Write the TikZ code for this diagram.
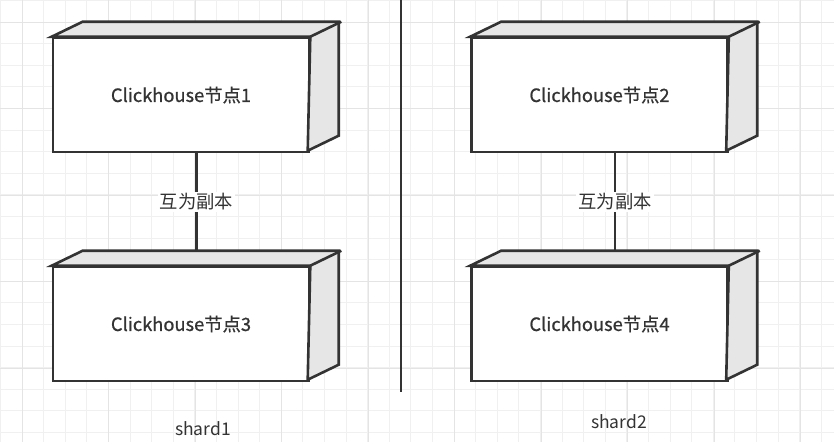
\documentclass[tikz,border=0pt]{standalone}
\usepackage{fontspec}
\setmainfont{Noto Sans CJK SC}
\newfontfamily\medfont{Noto Sans CJK SC}[FakeBold=0.8]
\begin{document}
\begin{tikzpicture}[x=1pt,y=-1pt,
  front/.style={draw=boxline,line width=2.6pt,fill=white,minimum width=256pt,minimum height=114pt,inner sep=0pt,font=\medfont\fontsize{18.3}{20}\selectfont,text=txt},
  face/.style={draw=boxline,line width=2.6pt,fill=facegray,line join=miter},
  link/.style={draw=boxline,line width=2.6pt},
  lbl/.style={fill=white,inner sep=2pt,font=\fontsize{18.3}{20}\selectfont,text=txt},
  shardlbl/.style={inner sep=0pt,font=\fontsize{17.5}{20}\selectfont,text=txt}]
\definecolor{boxline}{HTML}{333333}
\definecolor{facegray}{HTML}{E6E6E6}
\definecolor{txt}{HTML}{333333}
\definecolor{gridminor}{HTML}{F0F0F0}
\definecolor{gridmajor}{HTML}{E4E4E4}
\useasboundingbox (0,0) rectangle (834,442);
\fill[white] (0,0) rectangle (834,442);
\begin{scope}
\clip (0,0) rectangle (834,442);
\foreach \i in {0,...,39} {
  \draw[gridminor,line width=1pt] ({0.4+21.6*\i},0) -- ({0.4+21.6*\i},442);
  \draw[gridminor,line width=1pt] (0,{0.4+21.6*\i}) -- (834,{0.4+21.6*\i});
}
\foreach \i in {0,...,9} {
  \draw[gridmajor,line width=1pt] ({22+86.5*\i},0) -- ({22+86.5*\i},442);
  \draw[gridmajor,line width=1pt] (0,{22+86.5*\i}) -- (834,{22+86.5*\i});
}
\end{scope}
% divider
\draw[boxline,line width=2.8pt] (401,0) -- (401,392);
% boxes
\foreach \nm/\cx/\cy/\t in {n1/181/95/1,n2/599.5/95/2,n3/181/324/3,n4/599.5/324/4} {
  \node[front] (\nm) at (\cx,\cy) {Clickhouse节点\t};
  \draw[face] (\nm.north west) -- ++(31,-15) -- ++(256,0) -- ++(0,114) -- ++(-31,15) -- (\nm.north east) -- cycle;
  \draw[face] (\nm.north east) -- ++(31,-15);
}
% connectors
\draw[link] ([xshift=15.5pt]n1.south) -- node[lbl] {互为副本} ([xshift=15.5pt,yshift=15pt]n3.north);
\draw[link] ([xshift=15.5pt]n2.south) -- node[lbl] {互为副本} ([xshift=15.5pt,yshift=15pt]n4.north);
\node[shardlbl] (s1) at (203,429) {shard1};
\node[shardlbl] (s2) at (619,422) {shard2};
\end{tikzpicture}
\end{document}
